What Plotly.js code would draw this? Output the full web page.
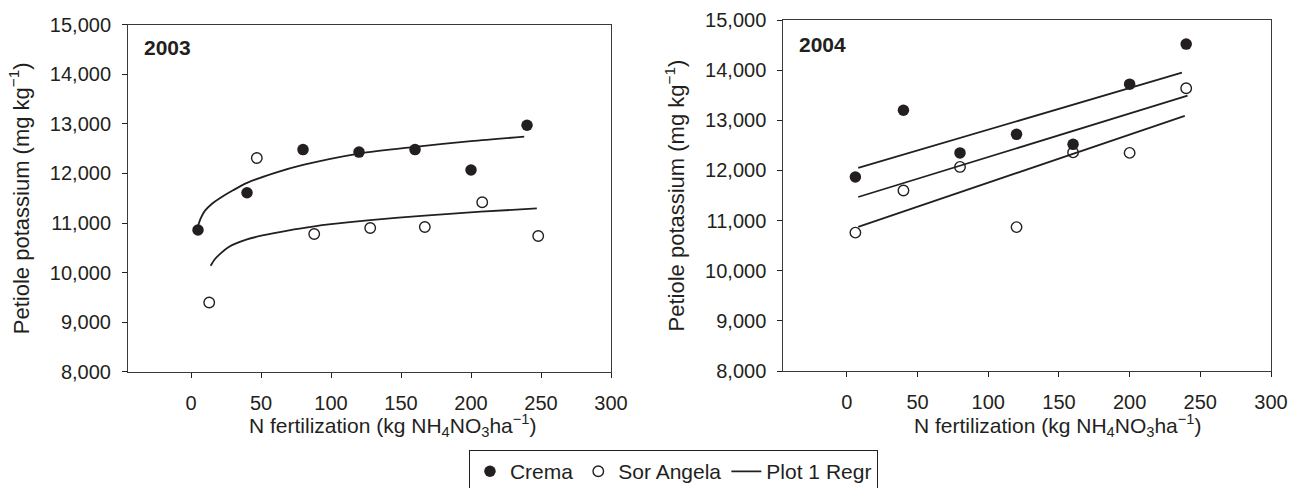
<!DOCTYPE html>
<html>
<head>
<meta charset="utf-8">
<script src="https://cdn.plot.ly/plotly-3.0.1.min.js"></script>
<style>html,body{margin:0;padding:0;background:#fff;}#chart{width:1301px;height:488px;}</style>
</head>
<body>
<div id="chart"></div>
<script>
// ---- 2003 panel ----
const xCrema03 = [5, 40, 80, 120, 160, 200, 240];
const yCrema03 = [10860, 11610, 12480, 12430, 12480, 12070, 12970];
const xSor03 = [13, 47, 88, 128, 167, 208, 248];
const ySor03 = [9400, 12310, 10780, 10900, 10920, 11420, 10740];
// regression curves
const xRegCrema03 = [5, 7, 10, 15, 20, 30, 40, 60, 80, 120, 160, 200, 238];
const yRegCrema03 = [10940, 11100, 11250, 11390, 11490, 11660, 11810, 12010, 12170, 12400, 12535, 12650, 12740];
const xRegSor03 = [14, 17, 20, 27, 40, 51, 70, 87, 100, 128, 167, 207, 247];
const yRegSor03 = [10140, 10270, 10360, 10520, 10670, 10750, 10855, 10930, 10978, 11060, 11150, 11230, 11294];

// ---- 2004 panel ----
const xCrema04 = [6, 40, 80, 120, 160, 200, 240];
const yCrema04 = [11870, 13200, 12350, 12720, 12520, 13720, 14520];
const xSor04 = [6, 40, 80, 120, 160, 200, 240];
const ySor04 = [10760, 11600, 12070, 10870, 12360, 12350, 13640];
const xReg1_04 = [8, 237];
const yReg1_04 = [12050, 13950];
const xReg2_04 = [8, 241];
const yReg2_04 = [11470, 13490];
const xReg3_04 = [8, 239];
const yReg3_04 = [10875, 13090];

const xTicks = [0, 50, 100, 150, 200, 250, 300];
const yTicks = [8000, 9000, 10000, 11000, 12000, 13000, 14000, 15000];
const names = ['Crema', 'Sor Angela', 'Plot 1 Regr'];
const panelLabels = ['2003', '2004'];
const yTitle = 'Petiole potassium (mg kg<sup>\u22121</sup>)';
const xTitle = 'N fertilization (kg NH<sub>4</sub>NO<sub>3</sub>ha<sup>\u22121</sup>)';

const INK = '#231f20';
const FONT = 'Liberation Sans, Arial, Helvetica, sans-serif';

const filled = {symbol: 'circle', size: 11.5, color: INK, line: {width: 0}};
const open = {symbol: 'circle-open', size: 10.5, color: INK, line: {width: 1.4, color: INK}};
const regLine = {color: INK, width: 1.8};

const traces = [
  {x: xCrema03, y: yCrema03, mode: 'markers', name: names[0], marker: filled, xaxis: 'x', yaxis: 'y'},
  {x: xSor03, y: ySor03, mode: 'markers', name: names[1], marker: open, xaxis: 'x', yaxis: 'y'},
  {x: xRegCrema03, y: yRegCrema03, mode: 'lines', name: names[2], line: Object.assign({shape: 'spline', smoothing: 0.8}, regLine), xaxis: 'x', yaxis: 'y'},
  {x: xRegSor03, y: yRegSor03, mode: 'lines', name: names[2], line: Object.assign({shape: 'spline', smoothing: 0.8}, regLine), xaxis: 'x', yaxis: 'y', showlegend: false},
  {x: xReg1_04, y: yReg1_04, mode: 'lines', name: names[2], line: regLine, xaxis: 'x2', yaxis: 'y2', showlegend: false},
  {x: xReg2_04, y: yReg2_04, mode: 'lines', name: names[2], line: regLine, xaxis: 'x2', yaxis: 'y2', showlegend: false},
  {x: xReg3_04, y: yReg3_04, mode: 'lines', name: names[2], line: regLine, xaxis: 'x2', yaxis: 'y2', showlegend: false},
  {x: xSor04, y: ySor04, mode: 'markers', name: names[1], marker: open, xaxis: 'x2', yaxis: 'y2', showlegend: false},
  {x: xCrema04, y: yCrema04, mode: 'markers', name: names[0], marker: filled, xaxis: 'x2', yaxis: 'y2', showlegend: false}
];

function xAxis(domain, anchor) {
  return {
    domain: domain, anchor: anchor, range: [-45, 300], tickvals: xTicks,
    ticks: 'outside', ticklen: 5, tickwidth: 1, tickcolor: INK,
    showline: true, mirror: true, linecolor: '#3a3a3a', linewidth: 1,
    showgrid: false, zeroline: false, ticklabelstandoff: 8,
    tickfont: {family: FONT, size: 20, color: INK}
  };
}
function yAxis(domain, anchor) {
  return {
    domain: domain, anchor: anchor, range: [8000, 15000], tickvals: yTicks, tickformat: ',d',
    ticks: 'outside', ticklen: 5, tickwidth: 1, tickcolor: INK,
    showline: true, mirror: true, linecolor: '#3a3a3a', linewidth: 1,
    showgrid: false, zeroline: false, ticklabelstandoff: 7,
    tickfont: {family: FONT, size: 20, color: INK},
    title: {text: yTitle, font: {family: FONT, size: 22, color: INK}, standoff: 14}
  };
}

const layout = {
  width: 1301, height: 488,
  margin: {l: 128, r: 30, t: 20, b: 116, autoexpand: false},
  paper_bgcolor: '#ffffff', plot_bgcolor: '#ffffff',
  font: {family: FONT, size: 20, color: INK},
  showlegend: true,
  xaxis: xAxis([0, 0.4226], 'y'),
  yaxis: Object.assign(yAxis([0, 0.9872], 'x'), {automargin: false}),
  xaxis2: xAxis([0.5733, 1], 'y2'),
  yaxis2: Object.assign(yAxis([0.0028, 1], 'x2'), {automargin: false}),
  legend: {
    orientation: 'h', x: 0.2983, xanchor: 'left', y: -0.222, yanchor: 'top',
    bordercolor: INK, borderwidth: 1, bgcolor: '#ffffff',
    font: {family: FONT, size: 21, color: INK}, traceorder: 'normal'
  },
  annotations: [
    {text: '<b>' + panelLabels[0] + '</b>', xref: 'paper', yref: 'paper', x: 0.0122, y: 0.9205, xanchor: 'left', yanchor: 'middle', showarrow: false, font: {family: FONT, size: 21, color: INK}},
    {text: '<b>' + panelLabels[1] + '</b>', xref: 'paper', yref: 'paper', x: 0.5853, y: 0.9318, xanchor: 'left', yanchor: 'middle', showarrow: false, font: {family: FONT, size: 21, color: INK}},
    {text: xTitle, xref: 'paper', yref: 'paper', x: 0.2318, y: -0.1506, xanchor: 'center', yanchor: 'middle', showarrow: false, font: {family: FONT, size: 21, color: INK}},
    {text: xTitle, xref: 'paper', yref: 'paper', x: 0.8136, y: -0.1506, xanchor: 'center', yanchor: 'middle', showarrow: false, font: {family: FONT, size: 21, color: INK}}
  ]
};

Plotly.newPlot('chart', traces, layout, {displayModeBar: false, staticPlot: true});
</script>
</body>
</html>
